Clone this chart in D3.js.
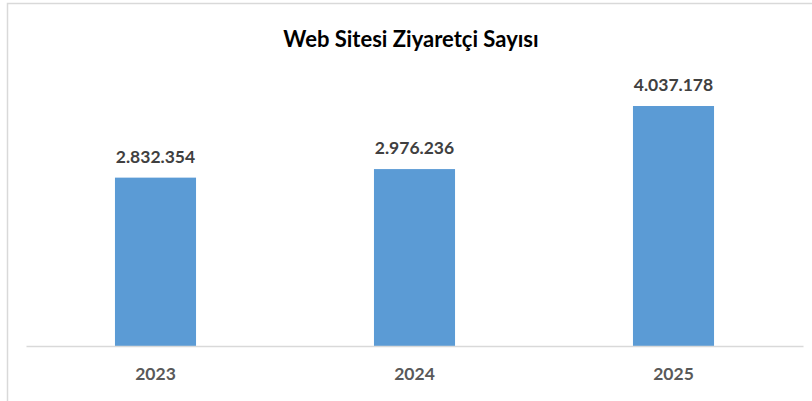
<!DOCTYPE html>
<html><head><meta charset="utf-8">
<script src="https://cdn.jsdelivr.net/npm/d3@7"></script>
<style>body{margin:0;background:#fff}svg{display:block}</style>
</head><body>
<script>
const categories = ["2023", "2024", "2025"];
const values = [2832354, 2976236, 4037178];
const valueLabels = ["2.832.354", "2.976.236", "4.037.178"];
const title = "Web Sitesi Ziyaretçi Sayısı";

const W = 812, H = 401;
const svg = d3.select("body").append("svg").attr("width", W).attr("height", H);
svg.append("rect").attr("width", W).attr("height", H).attr("fill", "#fff");
// chart border (cropped: only top and left visible)
svg.append("path").attr("d", `M7.5,${H} V3.5 H${W}`).attr("fill", "none")
  .attr("stroke", "#d9d9d9").attr("stroke-width", 1.5);

const x = d3.scaleBand().domain(categories).range([26, 803]).paddingInner(0.687).paddingOuter(0.3435);
const y = d3.scaleLinear().domain([0, 4500000]).range([346, 78.5]);

svg.append("text").attr("x", 411).attr("y", 47).attr("text-anchor", "middle")
  .attr("font-family", "Lato, sans-serif").attr("font-weight", "bold")
  .attr("font-size", 22).attr("fill", "#000").text(title);

svg.selectAll("rect.bar").data(values).join("rect").attr("class", "bar")
  .attr("x", (d, i) => x(categories[i])).attr("width", x.bandwidth())
  .attr("y", d => y(d)).attr("height", d => y(0) - y(d)).attr("fill", "#5b9bd5");

svg.selectAll("text.lbl").data(values).join("text").attr("class", "lbl")
  .attr("x", (d, i) => x(categories[i]) + x.bandwidth() / 2)
  .attr("y", d => y(d) - 15).attr("text-anchor", "middle")
  .attr("font-family", "Lato, sans-serif").attr("font-weight", "bold")
  .attr("font-size", 17.5).attr("fill", "#404040")
  .text((d, i) => valueLabels[i]);

const ax = svg.append("g").attr("transform", "translate(0,346)")
  .call(d3.axisBottom(x).tickSize(0).tickPadding(22));
ax.select(".domain").attr("stroke", "#d9d9d9").attr("stroke-width", 1.5);
ax.selectAll("text").attr("font-family", "Lato, sans-serif").attr("font-weight", "bold")
  .attr("font-size", 17.5).attr("fill", "#595959");
</script>
</body></html>
